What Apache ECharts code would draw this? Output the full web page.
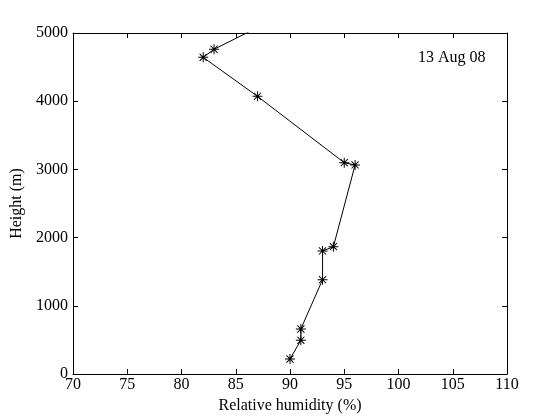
<!DOCTYPE html>
<html>
<head>
<meta charset="utf-8">
<script src="https://cdn.jsdelivr.net/npm/echarts@6/dist/echarts.min.js"></script>
<style>
  html, body { margin: 0; padding: 0; background: #fff; }
  #main { width: 560px; height: 420px; }
</style>
</head>
<body>
<div id="main"></div>
<script>
// sounding profile
var humidity = [90, 91, 91, 93, 93, 94, 96, 95, 87, 82, 83, 88];
var height = [220, 494, 660, 1383, 1804, 1867, 3065, 3098, 4072, 4643, 4761, 5160];
var xTicks = [70, 110, 5];
var yTicks = [0, 5000, 1000];
var dateLabel = '13 Aug 08';

var pts = [];
for (var i = 0; i < humidity.length; i++) {
  pts.push([humidity[i], height[i]]);
}

// asterisk marker made of thin bars
var star = 'path://M-0.5,-5h1v10h-1z M-5,-0.5h10v1h-10z ' +
  'M-3.9,-3.2L-3.2,-3.9L3.9,3.2L3.2,3.9z M3.2,-3.9L3.9,-3.2L-3.2,3.9L-3.9,3.2z';

var font = 'Liberation Serif';
function line() { return { show: true, onZero: false, lineStyle: { color: '#000', width: 1 } }; }
function tick() { return { show: true, inside: true, length: 5, lineStyle: { color: '#000' } }; }
var labelStyle = {
  fontFamily: font, fontSize: 16, color: '#000',
  formatter: function (v) { return String(v); }
};

var chart = echarts.init(document.getElementById('main'));
var option = {
  animation: false,
  backgroundColor: '#fff',
  grid: { left: 73, right: 53, top: 33, bottom: 46 },
  graphic: [{
    type: 'text', left: 418, top: 50,
    style: { text: dateLabel, font: '16px "Liberation Serif"', fill: '#000' }
  }],
  xAxis: [{
    type: 'value', min: xTicks[0], max: xTicks[1], interval: xTicks[2],
    name: 'Relative humidity (%)', nameLocation: 'middle', nameGap: 24,
    nameTextStyle: { fontFamily: font, fontSize: 16, color: '#000' },
    axisLine: line(), axisTick: tick(),
    axisLabel: Object.assign({ margin: 3 }, labelStyle),
    splitLine: { show: false }
  }, {
    type: 'value', position: 'top', min: xTicks[0], max: xTicks[1], interval: xTicks[2],
    axisLine: line(), axisTick: tick(), axisLabel: { show: false }, splitLine: { show: false }
  }],
  yAxis: [{
    type: 'value', min: yTicks[0], max: yTicks[1], interval: yTicks[2],
    name: 'Height (m)', nameLocation: 'middle', nameGap: 40,
    nameTextStyle: { fontFamily: font, fontSize: 16, color: '#000' },
    axisLine: line(), axisTick: tick(),
    axisLabel: Object.assign({ margin: 5 }, labelStyle),
    splitLine: { show: false }
  }, {
    type: 'value', position: 'right', min: yTicks[0], max: yTicks[1], interval: yTicks[2],
    axisLine: line(), axisTick: tick(), axisLabel: { show: false }, splitLine: { show: false }
  }],
  series: [{
    type: 'line',
    data: pts,
    clip: true,
    symbol: star,
    symbolSize: 10,
    showAllSymbol: true,
    lineStyle: { color: '#000', width: 1 },
    itemStyle: { color: '#000' }
  }]
};
chart.setOption(option);
</script>
</body>
</html>
